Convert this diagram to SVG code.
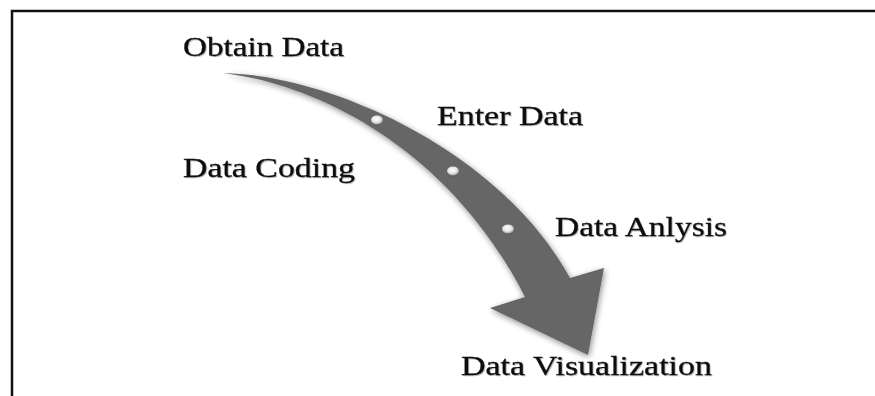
<svg xmlns="http://www.w3.org/2000/svg" width="875" height="396" viewBox="0 0 875 396">
  <style>
    .lbl { font-family: "Liberation Serif", "Times New Roman", serif; font-size: 27px; fill: #111; stroke: #111; stroke-width: 0.3; }
    .frame { stroke: #111; stroke-width: 2.5; fill: none; }
  </style>
  <defs>
    <filter id="soft" x="-10%" y="-10%" width="120%" height="120%">
      <feGaussianBlur in="SourceAlpha" stdDeviation="3"/>
      <feOffset dx="1" dy="2" result="b"/>
      <feComponentTransfer><feFuncA type="linear" slope="0.45"/></feComponentTransfer>
      <feMerge><feMergeNode/><feMergeNode in="SourceGraphic"/></feMerge>
    </filter>
    <filter id="tsh" x="-5%" y="-20%" width="110%" height="140%">
      <feGaussianBlur in="SourceAlpha" stdDeviation="0.7"/>
      <feOffset dx="1" dy="1"/>
      <feComponentTransfer><feFuncA type="linear" slope="0.25"/></feComponentTransfer>
      <feMerge><feMergeNode/><feMergeNode in="SourceGraphic"/></feMerge>
    </filter>
    <radialGradient id="bead" cx="0.45" cy="0.4" r="0.6">
      <stop offset="0" stop-color="#ffffff"/>
      <stop offset="0.6" stop-color="#e6e6e6"/>
      <stop offset="1" stop-color="#9a9a9a"/>
    </radialGradient>
  </defs>
  <rect width="875" height="396" fill="#ffffff"/>
  <g id="frame">
    <path class="frame" d="M12,396 V11 H875"/>
  </g>
  <g id="connectors">
    <path id="arrow" filter="url(#soft)" fill="#666666" d="M223,73 C330,75 500,150 570,278 L604,268 L588,355 L490,308 L525,297 C450,150 320,85 223,73 Z"/>
    <g id="beads">
      <ellipse cx="377" cy="121" rx="6.5" ry="5" fill="#555" opacity="0.5"/>
      <ellipse cx="377" cy="120" rx="6" ry="4.5" fill="url(#bead)"/>
      <ellipse cx="453" cy="172" rx="6.5" ry="5" fill="#555" opacity="0.5"/>
      <ellipse cx="453" cy="171" rx="6" ry="4.5" fill="url(#bead)"/>
      <ellipse cx="508" cy="230" rx="6.5" ry="5" fill="#555" opacity="0.5"/>
      <ellipse cx="508" cy="229" rx="6" ry="4.5" fill="url(#bead)"/>
    </g>
  </g>
  <g id="obtain-data" filter="url(#tsh)">
    <text class="lbl" x="183" y="56" textLength="161" lengthAdjust="spacingAndGlyphs">Obtain Data</text>
  </g>
  <g id="enter-data" filter="url(#tsh)">
    <text class="lbl" x="437" y="125" textLength="146" lengthAdjust="spacingAndGlyphs">Enter Data</text>
  </g>
  <g id="data-coding" filter="url(#tsh)">
    <text class="lbl" x="183" y="177" textLength="172" lengthAdjust="spacingAndGlyphs">Data Coding</text>
  </g>
  <g id="data-analysis" filter="url(#tsh)">
    <text class="lbl" x="555" y="236" textLength="172" lengthAdjust="spacingAndGlyphs">Data Anlysis</text>
  </g>
  <g id="data-visualization" filter="url(#tsh)">
    <text class="lbl" x="461" y="375" textLength="251" lengthAdjust="spacingAndGlyphs">Data Visualization</text>
  </g>
</svg>
